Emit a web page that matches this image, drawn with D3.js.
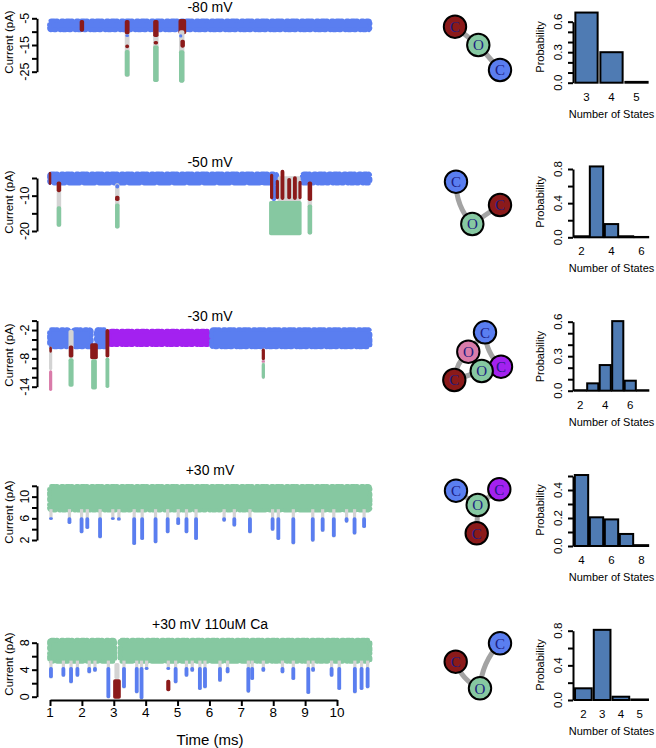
<!DOCTYPE html>
<html><head><meta charset="utf-8">
<script src="https://cdn.jsdelivr.net/npm/d3@7"></script>
<style>body{margin:0;background:#fff}svg{display:block}</style>
</head><body>
<svg id="c" width="656" height="748"></svg>
<script>
// ---------------- DATA ----------------
const panelTitles = ["-80 mV", "-50 mV", "-30 mV", "+30 mV", "+30 mV 110uM Ca"];
const timeTicks = [1, 2, 3, 4, 5, 6, 7, 8, 9, 10];
const currentTicks = [[-25,-20,-15,-10,-5],[-20,-15,-10,-5],[-14,-12,-10,-8,-6,-4,-2,0],[2,4,6,8,10,12],[0,2,4,6,8]];
const currentTickLabels = [[-25,-15,-5],[-20,-10],[-14,-8,-2],[2,6,10],[0,4,8]];

// baseline bands: [tStart, tEnd, upper level, lower level, state]
const bands1 = [[0.98,11.04,-5.9,-9.4,"blue"]];
const bands2 = [[0.98,8.12,-3.8,-6.5,"blue"],[8.9,11.04,-3.8,-6.5,"blue"]];
const bands3 = [[0.98,1.6,-1.9,-5.6,"blue"],[1.72,2.3,-1.9,-5.6,"blue"],[2.45,2.78,-1.9,-5.6,"blue"],[2.86,6.06,-2.2,-5.1,"purple"],[6.06,11.04,-1.9,-5.6,"blue"]];
const bands4 = [[0.98,11.04,11.9,7.5,"green"]];
const bands5 = [[0.98,3.04,8.4,5.2,"green"],[3.19,11.04,8.4,5.2,"green"]];

// event segments: [time, duration, from level, to level, state]
const events1 = [
  [2.00,0.14,-5.6,-10.0,"red"],
  [3.42,0.15,-9.5,-27.0,"gray"],[3.42,0.15,-5.6,-11.0,"red"],[3.42,0.12,-11.0,-12.0,"blue"],[3.42,0.12,-14.8,-16.2,"red"],[3.42,0.15,-16.9,-26.8,"green"],
  [4.32,0.17,-9.5,-28.8,"gray"],[4.32,0.17,-5.6,-12.0,"red"],[4.32,0.14,-13.5,-14.8,"red"],[4.32,0.17,-15.2,-28.9,"green"],
  [5.15,0.24,-5.3,-11.0,"red"],[5.13,0.17,-9.5,-29.0,"gray"],[5.10,0.10,-11.0,-12.2,"blue"],[5.16,0.14,-13.0,-16.0,"red"],[5.13,0.17,-17.0,-29.1,"green"]
];
const events2 = [
  [1.00,0.08,-3.2,-7.0,"red"],
  [1.28,0.14,-6.5,-18.8,"gray"],[1.28,0.14,-6.0,-9.0,"red"],[1.28,0.14,-13.0,-18.8,"green"],
  [3.11,0.14,-6.5,-19.3,"gray"],[3.11,0.12,-6.8,-8.0,"blue"],[3.11,0.14,-10.0,-11.5,"red"],[3.11,0.14,-12.2,-19.3,"green"],
  [8.50,0.72,-4.5,-12.0,"gray"],[8.38,1.02,-11.5,-21.2,"green"],[8.02,0.14,-6.8,-11.5,"blue"],
  [7.95,0.1,-3.8,-11.0,"red"],[8.13,0.1,-5.5,-11.0,"red"],[8.29,0.12,-2.7,-11.2,"red"],[8.50,0.12,-5.0,-11.0,"red"],[8.68,0.12,-4.5,-11.2,"red"],[8.84,0.1,-5.8,-11.0,"red"],
  [9.15,0.14,-6.5,-21.0,"gray"],[9.15,0.14,-6.0,-11.5,"red"],[9.15,0.14,-12.5,-21.0,"green"]
];
const events3 = [
  [1.02,0.1,-5.5,-10.5,"gray"],[1.02,0.08,-5.5,-6.8,"red"],[1.02,0.1,-10.5,-14.9,"pink"],
  [1.66,0.16,-2.0,-8.0,"gray"],[1.66,0.14,-5.3,-7.8,"red"],[1.66,0.16,-8.0,-14.0,"green"],
  [2.38,0.24,-4.8,-8.2,"red"],[2.38,0.18,-8.2,-14.6,"green"],
  [2.80,0.12,-1.8,-7.8,"red"],[2.80,0.12,-7.8,-14.3,"green"],
  [7.69,0.1,-5.9,-12.4,"gray"],[7.69,0.1,-5.9,-8.4,"red"],[7.69,0.1,-8.4,-8.9,"pink"],[7.69,0.1,-9.0,-12.3,"green"]
];
const events4 = [];
const events5 = [[3.10,0.16,5.0,2.6,"gray"],[3.10,0.24,2.6,-0.3,"red"],[4.71,0.13,2.5,0.8,"red"]];

// downward closings in the +30 mV traces: [time, lowest current]
const closings4 = [[1.03,5.7],[1.61,4.96],[1.99,3.25],[2.17,4.04],[2.57,2.32],[2.97,5.7],[3.16,5.58],[3.64,1.09],[3.89,2.0],[4.31,1.4],[4.69,3.25],[5.02,4.78],[5.28,3.25],[5.58,2.0],[6.46,5.39],[6.78,4.47],[7.27,3.25],[7.98,3.7],[8.16,2.0],[8.63,1.2],[9.24,1.7],[9.55,3.5],[9.9,2.5],[10.3,5.2],[10.55,3.0],[10.85,4.2]];
const closings5 = [[1.03,2.72],[1.42,2.96],[1.66,1.98],[1.86,2.96],[2.23,3.46],[2.41,3.7],[2.83,-0.24],[3.32,1.24],[3.72,0.5],[3.87,-0.39],[4.03,3.96],[4.71,3.96],[4.94,1.98],[5.28,2.96],[5.46,3.7],[5.70,1.0],[5.86,1.24],[6.33,2.22],[6.57,3.46],[7.22,0.6],[7.34,2.47],[7.69,3.7],[8.29,3.46],[8.63,2.47],[9.10,0.4],[9.25,3.7],[9.83,2.96],[10.07,1.0],[10.56,0.5],[10.77,1.0],[10.96,1.24]];
const closingTop = [null, null, null, 6.2, 4.4];

// state networks: nodes [label, state, x, y] in each panel's local frame; edges [from, to, bend]
const nodes1 = [["C","red",455,26.7],["O","green",478.3,45],["C","blue",500,70]];
const edges1 = [[0,1,0],[1,2,0]];
const nodes2 = [["C","blue",456,31.7],["C","red",500,55],["O","green",472.3,74]];
const edges2 = [[0,2,9],[1,2,0]];
const nodes3 = [["C","blue",485,32.3],["O","pink",468.3,51.7],["C","purple",501,66.7],["O","green",481.7,71],["C","red",454.3,80]];
const edges3 = [[1,0,0],[0,2,8],[1,4,6],[4,3,0],[1,3,0],[3,2,0]];
const nodes4 = [["C","blue",456,40.7],["C","purple",499.3,39.3],["O","green",477.7,55],["C","red",476.7,83.3]];
const edges4 = [[0,2,0],[1,2,0],[2,3,0]];
const nodes5 = [["C","blue",500,43.3],["C","red",455.7,61.7],["O","green",480,88.3]];
const edges5 = [[1,2,8],[2,0,-9]];

// histograms of number of states
const histStates = [[3,4,5],[2,3,4,5,6],[2,3,4,5,6,7],[4,5,6,7,8],[2,3,4,5]];
const histProb = [[0.69,0.30,0.008],[0.012,0.83,0.155,0.012,0.004],[0.004,0.064,0.223,0.605,0.087,0.004],[0.507,0.205,0.19,0.086,0.006],[0.135,0.81,0.038,0.006]];
const histTicks = [[0,0.1,0.2,0.3,0.4,0.5,0.6],[0,0.2,0.4,0.6,0.8],[0,0.1,0.2,0.3,0.4,0.5,0.6],[0,0.1,0.2,0.3,0.4,0.5],[0,0.2,0.4,0.6,0.8]];
const histTickLabels = [[0,0.3,0.6],[0,0.4,0.8],[0,0.3,0.6],[0,0.2,0.4],[0,0.4,0.8]];
const histXLabels = [[3,4,5],[2,4,6],[2,4,6],[4,6,8],[2,3,4,5]];

// ---------------- STYLE / LAYOUT ----------------
const stateColor = {blue:"#5a7ef0", red:"#8b1a1a", green:"#86c8a1", gray:"#d3d3d3", purple:"#a321f0", pink:"#d97ba9"};
const FONT = "'Liberation Sans', Arial, Helvetica, sans-serif";
const panelTop = [0,150,300,450,600];
const traceYRange = [[71.7,18.3],[231,178],[386.7,320.6],[540,485.8],[696.7,642.7]];
const titleY = [6.7,162,316,470,624];
const ylabY = [42,202,355,512,664];
const histYRange = [[82.7,21.7],[237.3,169],[390.7,321.7],[546,476],[700,630.7]];
const probY = [47,202,356.7,510,665];
const allBands = [bands1,bands2,bands3,bands4,bands5];
const allEvents = [events1,events2,events3,events4,events5];
const allClosings = [null,null,null,closings4,closings5];
const allNodes = [nodes1,nodes2,nodes3,nodes4,nodes5];
const allEdges = [edges1,edges2,edges3,edges4,edges5];

const svg = d3.select("#c");
const xT = d3.scaleLinear().domain([1,10]).range([50,337]);

function rotText(g, x, y, txt, size){
  g.append("text").attr("transform",`translate(${x},${y}) rotate(-90)`)
    .attr("text-anchor","middle").attr("dy","0.35em")
    .attr("font-family",FONT).attr("font-size",size).attr("fill","#000").text(txt);
}

for (let p = 0; p < 5; p++) {
  const g = svg.append("g");
  const ys = d3.scaleLinear().domain(d3.extent(currentTicks[p])).range(traceYRange[p]);

  // bands (noisy edge suggested by a dotted stroke of the same colour)
  g.selectAll(null).data(allBands[p]).join("rect")
    .attr("x", d => xT(d[0])).attr("width", d => xT(d[1]) - xT(d[0]))
    .attr("y", d => ys(d[2])).attr("height", d => ys(d[3]) - ys(d[2]))
    .attr("rx", 2).attr("fill", d => stateColor[d[4]])
    .attr("stroke", d => stateColor[d[4]]).attr("stroke-width", 4.5)
    .attr("stroke-dasharray", "3,2,1,4,2,3").attr("stroke-linecap","round");

  // closings (gray transition + blue closed level)
  if (allClosings[p]) {
    const bottomBand = allBands[p][0][3];
    g.selectAll(null).data(allClosings[p]).join("rect")
      .attr("x", d => xT(d[0] - 0.05)).attr("width", d => xT(d[0] + 0.05) - xT(d[0] - 0.05))
      .attr("y", ys(bottomBand) - 1).attr("height", d => ys(d[1]) - ys(bottomBand) + 1)
      .attr("fill", stateColor.gray);
    g.selectAll(null).data(allClosings[p]).join("rect")
      .attr("x", d => xT(d[0] - 0.06)).attr("width", d => xT(d[0] + 0.06) - xT(d[0] - 0.06))
      .attr("y", d => ys(Math.max(closingTop[p], d[1] + 0.4)))
      .attr("height", d => ys(d[1]) - ys(Math.max(closingTop[p], d[1] + 0.4)))
      .attr("rx", 1.8).attr("fill", stateColor.blue);
  }

  // events
  g.selectAll(null).data(allEvents[p]).join("rect")
    .attr("x", d => xT(d[0] - d[1]/2)).attr("width", d => Math.max(2.5, xT(d[0] + d[1]/2) - xT(d[0] - d[1]/2)))
    .attr("y", d => ys(d[2])).attr("height", d => ys(d[3]) - ys(d[2]))
    .attr("rx", 1.8).attr("fill", d => stateColor[d[4]]);

  // y axis
  const ax = g.append("g").attr("transform","translate(37,0)")
    .call(d3.axisLeft(ys).tickValues(currentTicks[p]).tickSize(5).tickSizeOuter(0).tickFormat(""));
  ax.selectAll("path,line").attr("stroke","#000").attr("stroke-width",2);
  currentTickLabels[p].forEach(v => rotText(g, 25, ys(v), String(v), 12.5));
  rotText(g, 9, ylabY[p], "Current (pA)", 11.5);

  // title
  g.append("text").attr("x",210).attr("y",titleY[p]).attr("dy","0.35em")
    .attr("text-anchor","middle").attr("font-family",FONT).attr("font-size",14).text(panelTitles[p]);

  // network
  const nx = d3.scaleLinear().domain([0,1]).range([0,1]);
  const ny = d3.scaleLinear().domain([0,1]).range([panelTop[p], panelTop[p] + 1]);
  const nodes = allNodes[p];
  const ng = g.append("g");
  ng.selectAll(null).data(allEdges[p]).join("path")
    .attr("d", e => {
      const a = nodes[e[0]], b = nodes[e[1]];
      const x1 = nx(a[2]), y1 = ny(a[3]), x2 = nx(b[2]), y2 = ny(b[3]);
      if (!e[2]) return `M${x1},${y1}L${x2},${y2}`;
      const dx = x2 - x1, dy = y2 - y1, L = Math.hypot(dx, dy);
      const cx = (x1 + x2)/2 + e[2] * (-dy / L), cy = (y1 + y2)/2 + e[2] * (dx / L);
      return `M${x1},${y1}Q${cx},${cy} ${x2},${y2}`;
    })
    .attr("fill","none").attr("stroke","#a3a3a3").attr("stroke-width",5);
  ng.selectAll(null).data(nodes).join("circle")
    .attr("cx", d => nx(d[2])).attr("cy", d => ny(d[3])).attr("r", 11.2)
    .attr("fill", d => stateColor[d[1]]).attr("stroke","#000").attr("stroke-width",2);
  ng.selectAll(null).data(nodes).join("text")
    .attr("x", d => nx(d[2])).attr("y", d => ny(d[3])).attr("dy","0.36em")
    .attr("text-anchor","middle").attr("font-family","'Liberation Serif', 'Times New Roman', serif")
    .attr("font-size",15).attr("fill","#1c1c80").text(d => d[0]);

  // histogram
  const xb = d3.scaleBand().domain(histStates[p]).range([574,649]).paddingInner(0.11).paddingOuter(0.055);
  const yh = d3.scaleLinear().domain([0, d3.max(histTicks[p])]).range(histYRange[p]);
  g.selectAll(null).data(histStates[p].map((s,i) => [s, histProb[p][i]])).join("rect")
    .attr("x", d => xb(d[0])).attr("width", xb.bandwidth())
    .attr("y", d => yh(d[1])).attr("height", d => yh(0) - yh(d[1]))
    .attr("fill","#4f7bb3").attr("stroke","#000").attr("stroke-width",2);
  const hax = g.append("g").attr("transform","translate(573,0)")
    .call(d3.axisLeft(yh).tickValues(histTicks[p]).tickSize(5).tickSizeOuter(0).tickFormat(""));
  hax.selectAll("path,line").attr("stroke","#000").attr("stroke-width",2);
  histTickLabels[p].forEach(v => rotText(g, 558, yh(v), d3.format(".1f")(v), 11.5));
  rotText(g, 540, probY[p], "Probability", 11);
  g.selectAll(null).data(histXLabels[p]).join("text")
    .attr("x", d => xb(d) + xb.bandwidth()/2).attr("y", yh(0) + 14).attr("dy","0.35em")
    .attr("text-anchor","middle").attr("font-family",FONT).attr("font-size",11.5).text(d => d);
  g.append("text").attr("x",611.5).attr("y", yh(0) + 31).attr("dy","0.35em")
    .attr("text-anchor","middle").attr("font-family",FONT).attr("font-size",11).text("Number of States");
}

// time axis
const xa = svg.append("g").attr("transform","translate(0,700)")
  .call(d3.axisBottom(xT).tickValues(timeTicks).tickSize(6).tickSizeOuter(0).tickFormat(""));
xa.selectAll("path,line").attr("stroke","#000").attr("stroke-width",2);
svg.selectAll(null).data(timeTicks).join("text")
  .attr("x", d => xT(d)).attr("y", 712.5).attr("dy","0.35em").attr("text-anchor","middle")
  .attr("font-family",FONT).attr("font-size",13.5).text(d => d);
svg.append("text").attr("x",210).attr("y",740).attr("dy","0.35em").attr("text-anchor","middle")
  .attr("font-family",FONT).attr("font-size",15).text("Time (ms)");
</script>
</body></html>
